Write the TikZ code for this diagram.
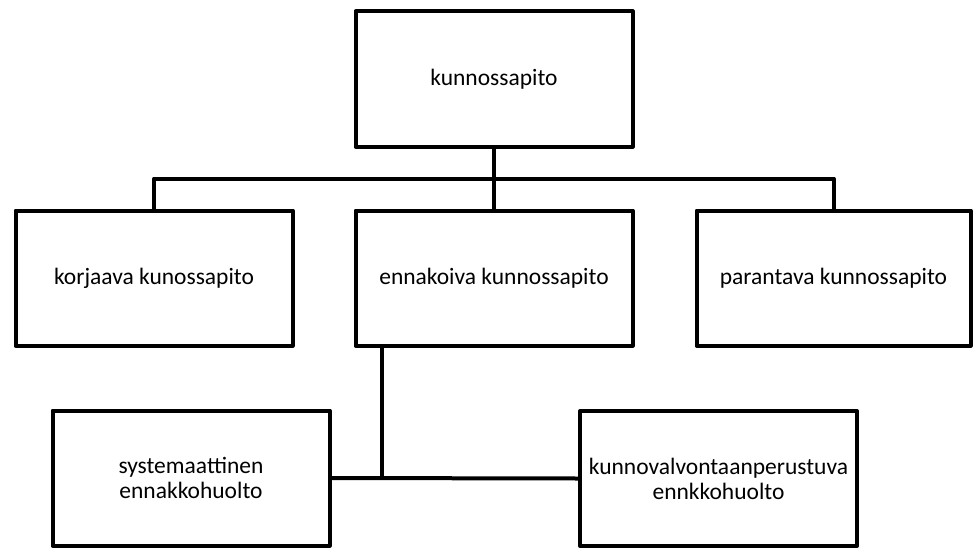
\documentclass[tikz,border=0pt]{standalone}
\usepackage{fontspec}
\setmainfont{Carlito}
\usetikzlibrary{positioning}

\begin{document}
\begin{tikzpicture}
  [x=1pt, y=-1pt,
   node distance=60pt,
   line width=4pt,
   line join=round,
   boxnode/.style={rectangle,
                   draw=black,
                   line width=4pt,
                   align=center,
                   minimum width=277pt,
                   minimum height=135pt,
                   font=\fontsize{23.5}{25}\selectfont},]
  \useasboundingbox (0,0) rectangle (974,551);
  \node[boxnode] (kp)    at (494,79)              {kunnossapito};
  \node[boxnode] (enn)   [below=of kp]            {ennakoiva kunnossapito};
  \node[boxnode] (korj)  [left=59pt of enn]       {korjaava kunossapito};
  \node[boxnode, minimum width=274pt] (par) [right=of enn] {parantava kunnossapito};
  \node[boxnode] (syst)  at (191,478)             {systemaattinen\\ennakkohuolto};
  \node[boxnode] (kval)  at (718.5,478.5)         {kunnovalvontaanperustuva\\ennkkohuolto};
  \draw (kp.south) -- (enn.north);
  \draw (korj.north) -- ++(0,-30) -| (par.north);
  \draw ([xshift=-112pt]enn.south) -- ([xshift=-112pt]enn.south |- syst.east);
  \draw (syst.east) -- (kval.west);
\end{tikzpicture}
\end{document}
